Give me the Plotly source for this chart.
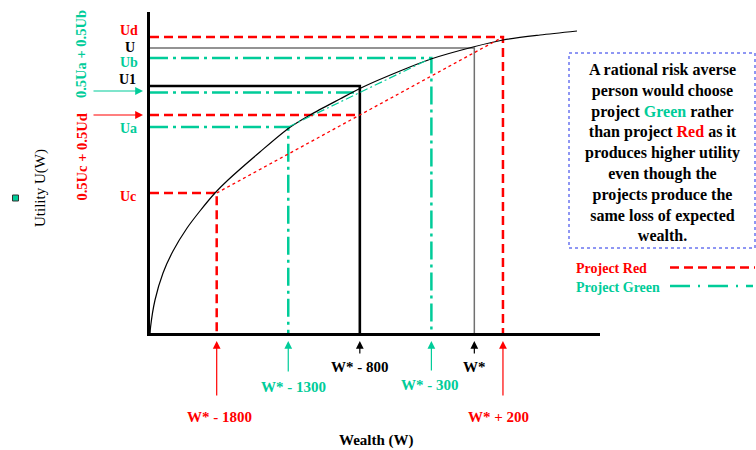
import plotly.graph_objects as go

RED = "#FF0000"
GREEN = "#00CC99"
FONT = "Liberation Serif"

# ---------------- data ----------------
W_STAR = 2300
offsets = [-1800, -1300, -800, -300, 0, 200]
tick_labels = ["W* - 1800", "W* - 1300", "W* - 800", "W* - 300", "W*", "W* + 200"]
wealth = [W_STAR + o for o in offsets]

# utility levels
U_c, U_a, U_1, U_b, U_w, U_d = 142, 208, 249, 277, 287, 298
# utility curve
curve_w = [34, 38, 69, 125, 195, 293, 383, 488, 579, 802, 1005, 1152, 1361, 1522,
           1781, 1997, 2291, 2500, 2759, 3017]
curve_u = [0, 8, 35, 62, 84, 107, 124, 142, 155, 183, 207, 220, 236, 248,
           264, 276, 288, 295, 300, 304]

W_c, W_a, W_m, W_b, W_s, W_d = wealth
mid_red = 0.5 * U_c + 0.5 * U_d
mid_green = 0.5 * U_a + 0.5 * U_b

X0, X1 = 34, 3178
Y0, Y1 = 2, 323

# ---------------- layout helpers (pixel -> paper) ----------------
L, R, T, B = 150, 156, 12, 117
PW, PH = 756 - L - R, 450 - T - B


def px(p):
    return (p - L) / PW


def py(p):
    return (450 - B - p) / PH


fig = go.Figure()


def seg(xs, ys, color, width, dash="solid"):
    fig.add_trace(go.Scatter(x=xs, y=ys, mode="lines", hoverinfo="skip", showlegend=False,
                             line=dict(color=color, width=width, dash=dash)))


RDASH = "9px,5px"
GDASH = "18px,5px,3px,5px"

# red project
seg([X0, W_d, W_d], [U_d, U_d, Y0], RED, 2.5, RDASH)
seg([X0, W_c, W_c], [U_c, U_c, Y0], RED, 2.5, RDASH)
seg([X0, W_m], [mid_red, mid_red], RED, 2.5, RDASH)
# green project
seg([X0, W_b, W_b], [U_b, U_b, Y0], GREEN, 2.5, GDASH)
seg([X0, W_a, W_a], [U_a, U_a, Y0], GREEN, 2.5, GDASH)
seg([X0, W_m], [mid_green, mid_green], GREEN, 2.5, GDASH)
# W* reference (gray) and certainty equivalent (black)
seg([X0, W_s, W_s], [U_w, U_w, Y0], "#707070", 1.5)
seg([X0, W_m, W_m], [U_1, U_1, Y0], "black", 2.6)
# utility curve
fig.add_trace(go.Scatter(x=curve_w, y=curve_u, mode="lines", hoverinfo="skip", showlegend=False,
                         line=dict(color="black", width=1.2, shape="spline", smoothing=0.8)))
# chords
seg([W_c, W_d], [U_c, U_d], RED, 1.3, "3px,3px")
seg([W_a, W_b], [U_a, U_b], GREEN, 1.2, "8px,3px,2px,3px")

ann = []


def text(x, y, s, color="black", size=14, bold=True, angle=0, xref="paper", yref="paper",
         xanchor="center", xshift=0, align="center"):
    ann.append(dict(x=x, y=y, xref=xref, yref=yref, text=s, showarrow=False, textangle=angle,
                    xanchor=xanchor, yanchor="middle", xshift=xshift, align=align,
                    font=dict(family=FONT, size=size, color=color,
                              weight="bold" if bold else "normal")))


def arrow(x, y, ax, ay, color, xref="paper", yref="paper"):
    ann.append(dict(x=x, y=y, xref=xref, yref=yref, ax=ax, ay=ay, text="", showarrow=True,
                    arrowhead=2, arrowsize=1.3, arrowwidth=1.2, arrowcolor=color))


# left labels
text(px(128.5), py(30.5), "Ud", RED)
text(px(130), py(47.5), "U", "black")
text(px(128.5), py(62), "Ub", GREEN)
text(px(127.5), py(79.5), "U1", "black")
text(px(128), py(128), "Ua", GREEN)
text(px(128), py(196.5), "Uc", RED)
text(px(81), py(54), "0.5Ua + 0.5Ub", GREEN, size=14.5, angle=-90)
text(px(81), py(157.5), "0.5Uc + 0.5Ud", RED, size=14.5, angle=-90)
arrow(px(143), py(91), -51, 0, GREEN)
arrow(px(143), py(115), -51, 0, RED)
text(px(40), py(188), "Utility U(W)", "black", size=15, bold=False, angle=-90)

# bottom labels
colors = [RED, GREEN, "black", GREEN, "black", RED]
tails = [397, 373, 355, 372, 355, 397]
label_y = [416.5, 386.5, 367, 385, 367, 416.5]
shifts = [3, 5, 0, -1, 0, -4]
for w, lab, c, t, ly, sh in zip(wealth, tick_labels, colors, tails, label_y, shifts):
    arrow(w, py(341), 0, t - 341, c, xref="x")
    text(w, py(ly), lab, c, size=15, xref="x", xshift=sh)
text(px(376), py(440), "Wealth (W)", "black", size=15)

# explanation box
box_txt = ("A rational risk averse<br>person would choose<br>project "
           f"<span style='color:{GREEN}'>Green</span> rather<br>than project "
           f"<span style='color:{RED}'>Red</span> as it<br>produces higher utility<br>"
           "even though the<br>projects produce the<br>same loss of expected<br>wealth.")
text(px(662), py(152), box_txt, "black", size=16)

# legend
text(px(574), py(268.5), "Project Red", RED, size=14, xanchor="left")
text(px(574), py(287.5), "Project Green", GREEN, size=14, xanchor="left")

shapes = [
    dict(type="rect", xref="paper", yref="paper", x0=px(569), x1=px(755), y0=py(53), y1=py(248),
         line=dict(color="#1F2FE8", width=1, dash="dot")),
    dict(type="line", xref="paper", yref="paper", x0=px(670), x1=px(755), y0=py(267.5), y1=py(267.5),
         line=dict(color=RED, width=2.5, dash=RDASH)),
    dict(type="line", xref="paper", yref="paper", x0=px(670), x1=px(753), y0=py(286), y1=py(286),
         line=dict(color=GREEN, width=2.5, dash="20px,8px,2px,8px")),
    dict(type="rect", xref="paper", yref="paper", x0=px(12.5), x1=px(18.5), y0=py(201), y1=py(195),
         fillcolor=GREEN, line=dict(color="#333333", width=1)),
]

fig.update_layout(
    width=756, height=450,
    margin=dict(l=L, r=R, t=T, b=B, pad=0),
    paper_bgcolor="white", plot_bgcolor="white",
    xaxis=dict(range=[X0, X1], showline=True, linewidth=3, linecolor="black", showgrid=False,
               zeroline=False, showticklabels=False, ticks=""),
    yaxis=dict(range=[Y0, Y1], showline=True, linewidth=3, linecolor="black", showgrid=False,
               zeroline=False, showticklabels=False, ticks=""),
    annotations=ann, shapes=shapes, showlegend=False,
)

fig.write_html("out.html", config={"displayModeBar": False},
               post_script="document.body.style.margin='0';")
